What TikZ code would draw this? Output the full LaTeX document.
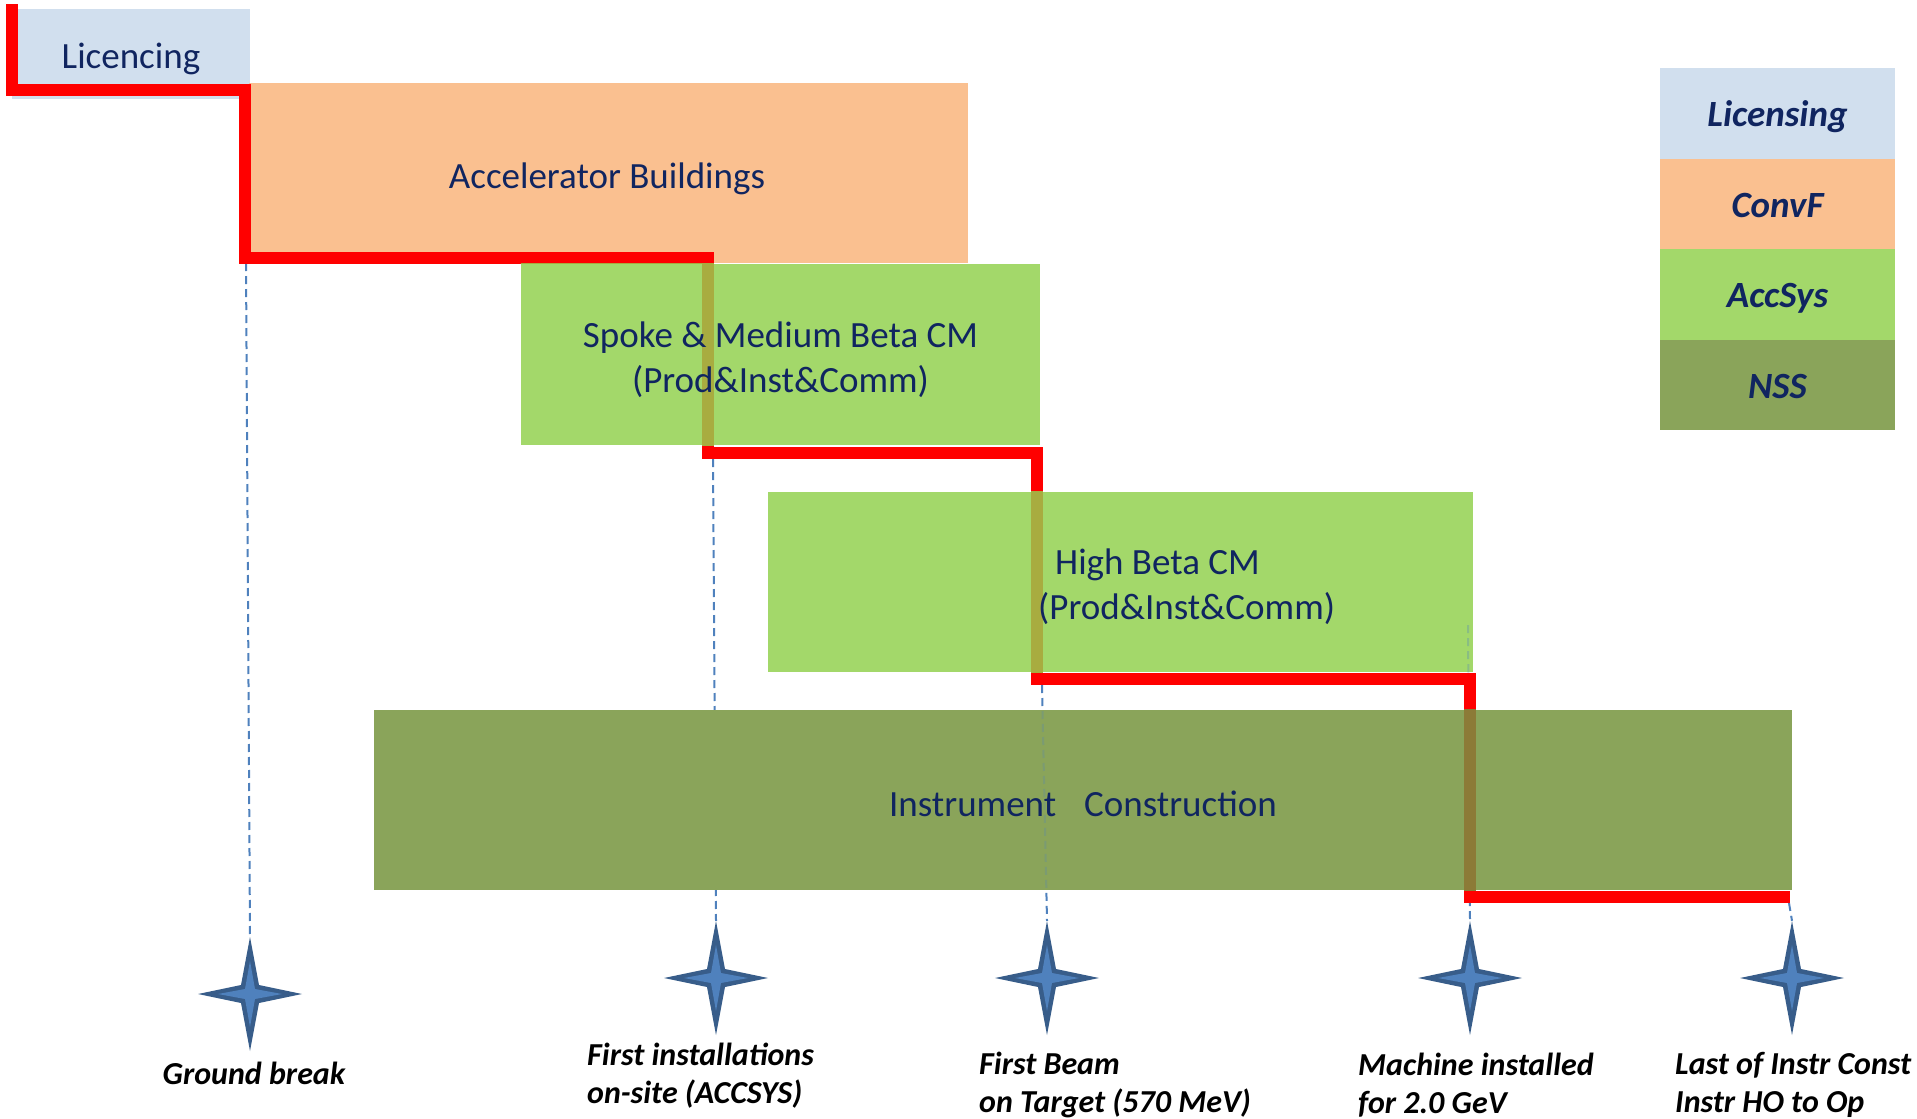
\documentclass[tikz,border=0pt]{standalone}
\usepackage{fontspec}
\setmainfont{Carlito}
\definecolor{txt}{RGB}{16,37,96}
\definecolor{licb}{RGB}{209,223,238}
\definecolor{convf}{RGB}{250,192,144}
\definecolor{accs}{RGB}{163,216,106}
\definecolor{nss}{RGB}{138,164,90}
\definecolor{accover}{RGB}{168,172,64}
\definecolor{nssover}{RGB}{140,123,55}
\definecolor{starfill}{RGB}{79,129,189}
\definecolor{starline}{RGB}{56,93,138}
\definecolor{dashc}{RGB}{79,129,189}
\definecolor{pathred}{RGB}{255,0,0}
\tikzset{
  box/.style={draw=none, inner sep=0},
  boxtext/.style={inner sep=0, text=txt, align=center,
    font=\fontsize{37}{45}\selectfont},
  legend/.style={draw=none, inner sep=0, minimum width=235, minimum height=90.5},
  legtext/.style={inner sep=0, text=txt,
    font=\fontsize{37}{44}\selectfont\bfseries\itshape},
  ms/.style={inner sep=0, text=black, align=left,
    font=\fontsize{32}{38}\selectfont\bfseries\itshape},
  dashline/.style={dashc, line width=2, dash pattern=on 8 off 5},
  redpath/.style={pathred, line width=12, line join=miter},
  starnode/.style={draw=none, inner sep=0, minimum width=104, minimum height=114,
    path picture={
      \begin{scope}[shift={(path picture bounding box.center)}]
        \fill[starline] (0,-57) -- (9,-9) -- (52,0) -- (9,9) -- (0,57) -- (-9,9) -- (-52,0) -- (-9,-9) -- cycle;
        \fill[starfill] (0,-33) -- (5,-5) -- (32,0) -- (5,5) -- (0,33) -- (-5,5) -- (-32,0) -- (-5,-5) -- cycle;
      \end{scope}}}
}
\begin{document}
\begin{tikzpicture}[x=1pt,y=-1pt]
\useasboundingbox (0,0) rectangle (1917,1119);
% early boxes (under the path)
\node[box, fill=licb, minimum width=238, minimum height=90] (lic) at (131,54) {};
\node[box, fill=convf, minimum width=719, minimum height=180] (acc) at (608.5,173) {};
% milestone stars and dashed lines
\coordinate (d1) at (246,263);
\coordinate (d2) at (713,459);
\coordinate (d3) at (1042,685);
\coordinate (d4) at (1468,625);
\coordinate (d5) at (1789,903);
\node[starnode] (s1) at (250,994) {};
\node[starnode] (s2) at (716,978) {};
\node[starnode] (s3) at (1047,978) {};
\node[starnode] (s4) at (1470,978) {};
\node[starnode] (s5) at (1792,978) {};
\draw[dashline] (d1) -- (s1.north);
\draw[dashline] (d2) -- (s2.north);
\draw[dashline] (d3) -- (s3.north);
\draw[dashline] (d4) -- (s4.north);
\draw[dashline] (d5) -- (s5.north);
% critical path
\coordinate (p0) at (12,4);
\coordinate (p1) at (245,90);
\coordinate (p2) at (708,258);
\coordinate (p3) at (1037,453);
\coordinate (p4) at (1470,679);
\coordinate (p5) at (1790,897);
\draw[redpath] (p0) |- (p1) |- (p2) |- (p3) |- (p4) |- (p5);
% later boxes, with the path showing through
\node[box, fill=accs, minimum width=519, minimum height=181] (spoke) at (780.5,354.5) {};
\node[box, fill=accs, minimum width=705, minimum height=180] (hb) at (1120.5,582) {};
\node[box, fill=nss, minimum width=1418, minimum height=180] (ins) at (1083,800) {};
\begin{scope}
  \clip (spoke.south west) rectangle (spoke.north east);
  \draw[redpath, accover] (p0) |- (p1) |- (p2) |- (p3) |- (p4) |- (p5);
\end{scope}
\begin{scope}
  \clip (hb.south west) rectangle (hb.north east);
  \draw[redpath, accover] (p0) |- (p1) |- (p2) |- (p3) |- (p4) |- (p5);
  \draw[dashline, opacity=0.3] (d4) -- (s4.north);
\end{scope}
\begin{scope}
  \clip (ins.south west) rectangle (ins.north east);
  \draw[redpath, nssover] (p0) |- (p1) |- (p2) |- (p3) |- (p4) |- (p5);
  \draw[dashline, opacity=0.25] (d3) -- (s3.north);
\end{scope}
% box texts
\node[boxtext] (t1) at (131,59) {Licencing};
\node[boxtext] (t2) at (607,179) {Accelerator Buildings};
\node[boxtext] (t3) at (780.5,360) {Spoke \& Medium Beta CM\\(Prod\&Inst\&Comm)};
\node[boxtext, anchor=west] (t4) at (1055,565) {High Beta CM};
\node[boxtext, anchor=west] (t5) at (1038,609) {(Prod\&Inst\&Comm)};
\node[boxtext] (t6) at (1083,804) {Instrument\hspace{28pt}Construction};
% milestone labels
\node[ms] (l1) at (254,1073) {Ground break};
\node[ms, anchor=west] (l2) at (587,1076) {First installations\\on-site (ACCSYS)};
\node[ms, anchor=west] (l3) at (979,1085) {First Beam\\on Target (570 MeV)};
\node[ms, anchor=west] (l4) at (1358,1085) {Machine installed\\for 2.0 GeV};
\node[ms, anchor=west] (l5) at (1675,1085) {Last of Instr Const\\Instr HO to Op};
% legend
\node[legend, fill=licb] (g1) at (1777.5,113.5) {};
\node[legend, fill=convf] (g2) at (1777.5,204) {};
\node[legend, fill=accs] (g3) at (1777.5,294.5) {};
\node[legend, fill=nss] (g4) at (1777.5,385) {};
\node[legtext] (g1t) at (1777.5,117) {Licensing};
\node[legtext] (g2t) at (1777.5,206) {ConvF};
\node[legtext] (g3t) at (1777.5,298) {AccSys};
\node[legtext] (g4t) at (1777.5,387) {NSS};
\end{tikzpicture}
\end{document}
